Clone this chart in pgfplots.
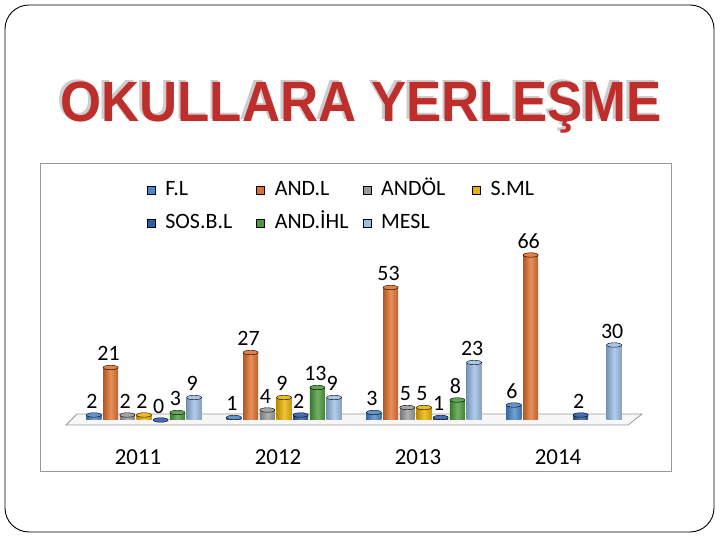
\documentclass[border=0pt]{standalone}
\usepackage{fontspec}
\setmainfont{Carlito}
\newfontfamily\titlefont{Liberation Sans}
\usepackage{pgfplots}
\pgfplotsset{compat=1.18}
\definecolor{flc}{HTML}{4A86C8}
\definecolor{andl}{HTML}{E2702C}
\definecolor{andol}{HTML}{9A9A9A}
\definecolor{sml}{HTML}{EDB200}
\definecolor{sos}{HTML}{2E5AA8}
\definecolor{ihl}{HTML}{4C9A3C}
\definecolor{mesl}{HTML}{9CBEE6}
\definecolor{titlered}{HTML}{C02E2C}
\pgfplotsset{cyl/.style n args={2}{ybar, bar width=15bp, forget plot, draw=none, fill=#1, left color=#1!78!black, right color=#1!85!black, middle color=#1!78!white, bar shift=#2, mark=*, mark size=7.5bp, mark options={xshift=#2, yscale=0.3, draw=none, fill=#1!88!white, shade=false}}}
\newcommand\ttl{\scalebox{0.93}[1]{\fontsize{57}{60}\titlefont\bfseries OKULLARA YERLEŞME}}
\newcommand\leg[2]{\hspace{10bp}\makebox[#1][l]{\fontsize{22}{26}\selectfont #2}}
\begin{document}
\begin{tikzpicture}[x=1bp,y=1bp]
\path[use as bounding box] (0,0) rectangle (720,540);
\draw[black, line width=0.9bp, rounded corners=24bp] (5,8) rectangle (714,535);
\draw[black!40, line width=0.9bp] (40,69) rectangle (671,377);
% title with soft shadow
\node[anchor=base, inner sep=0pt] at (361,418) {\rlap{\kern-2.5bp\raisebox{2.5bp}{\color{black!20}\ttl}}\color{titlered}\ttl};
% floor
\filldraw[fill=black!3, draw=black!40, line width=0.8bp] (66,115) -- (628,115) -- (642,126) -- (77,126) -- cycle;
\begin{axis}[
  at={(74bp,120bp)}, anchor=south west,
  scale only axis, width=560bp, height=175bp,
  xmin=-0.5, xmax=3.5, ymin=0, ymax=70,
  axis line style={draw=none},
  ytick=\empty,
  xtick={0,1,2,3}, xticklabels={2011,2012,2013,2014},
  major tick length=0pt,
  xticklabel style={font=\fontsize{23}{26}\selectfont, anchor=center, yshift=-37bp, xshift=-6bp},
  clip=false,
  nodes near coords,
  /pgf/number format/assume math mode=true,
  every node near coord/.append style={font=\fontsize{22}{26}\selectfont, text=black, anchor=south, yshift=3bp, xshift=-2bp},
  legend columns=4,
  legend cell align=left,
  legend image code/.code={\fill[#1] (0bp,-4bp) rectangle (8bp,4bp);},
  legend style={at={(0.1304,1.366)}, anchor=north west, draw=none, fill=none,
    inner sep=0pt, outer sep=0pt,
    row sep=14bp, column sep=0pt,
    nodes={inner sep=0pt, text height=15bp, text depth=4bp}},
]
% F.L
\addplot[cyl={flc}{-50.1bp}] coordinates {(0,2)};
\addplot[cyl={flc}{-50.1bp}] coordinates {(1,1)};
\addplot[cyl={flc}{-50.1bp}] coordinates {(2,3)};
\addplot[cyl={flc}{-50.1bp}] coordinates {(3,6)};
% AND.L
\addplot[cyl={andl}{-33.4bp}] coordinates {(0,21)};
\addplot[cyl={andl}{-33.4bp}] coordinates {(1,27)};
\addplot[cyl={andl}{-33.4bp}] coordinates {(2,53)};
\addplot[cyl={andl}{-33.4bp}] coordinates {(3,66)};
% ANDÖL
\addplot[cyl={andol}{-16.7bp}] coordinates {(0,2)};
\addplot[cyl={andol}{-16.7bp}] coordinates {(1,4)};
\addplot[cyl={andol}{-16.7bp}] coordinates {(2,5)};
% S.ML
\addplot[cyl={sml}{0bp}] coordinates {(0,2)};
\addplot[cyl={sml}{0bp}] coordinates {(1,9)};
\addplot[cyl={sml}{0bp}] coordinates {(2,5)};
% SOS.B.L
\addplot[cyl={sos}{16.7bp}] coordinates {(0,0)};
\addplot[cyl={sos}{16.7bp}] coordinates {(1,2)};
\addplot[cyl={sos}{16.7bp}] coordinates {(2,1)};
\addplot[cyl={sos}{16.7bp}] coordinates {(3,2)};
% AND.İHL
\addplot[cyl={ihl}{33.4bp}] coordinates {(0,3)};
\addplot[cyl={ihl}{33.4bp}] coordinates {(1,13)};
\addplot[cyl={ihl}{33.4bp}] coordinates {(2,8)};
% MESL
\addplot[cyl={mesl}{50.1bp}] coordinates {(0,9)};
\addplot[cyl={mesl}{50.1bp}] coordinates {(1,9)};
\addplot[cyl={mesl}{50.1bp}] coordinates {(2,23)};
\addplot[cyl={mesl}{50.1bp}] coordinates {(3,30)};
% legend
\addlegendimage{fill=flc}
\addlegendentry{\leg{91bp}{F.L}}
\addlegendimage{fill=andl}
\addlegendentry{\leg{88bp}{AND.L}}
\addlegendimage{fill=andol}
\addlegendentry{\leg{91bp}{ANDÖL}}
\addlegendimage{fill=sml}
\addlegendentry{\leg{60bp}{S.ML}}
\addlegendimage{fill=sos}
\addlegendentry{\leg{91bp}{SOS.B.L}}
\addlegendimage{fill=ihl}
\addlegendentry{\leg{88bp}{AND.İHL}}
\addlegendimage{fill=mesl}
\addlegendentry{\leg{91bp}{MESL}}
\end{axis}
\end{tikzpicture}
\end{document}
